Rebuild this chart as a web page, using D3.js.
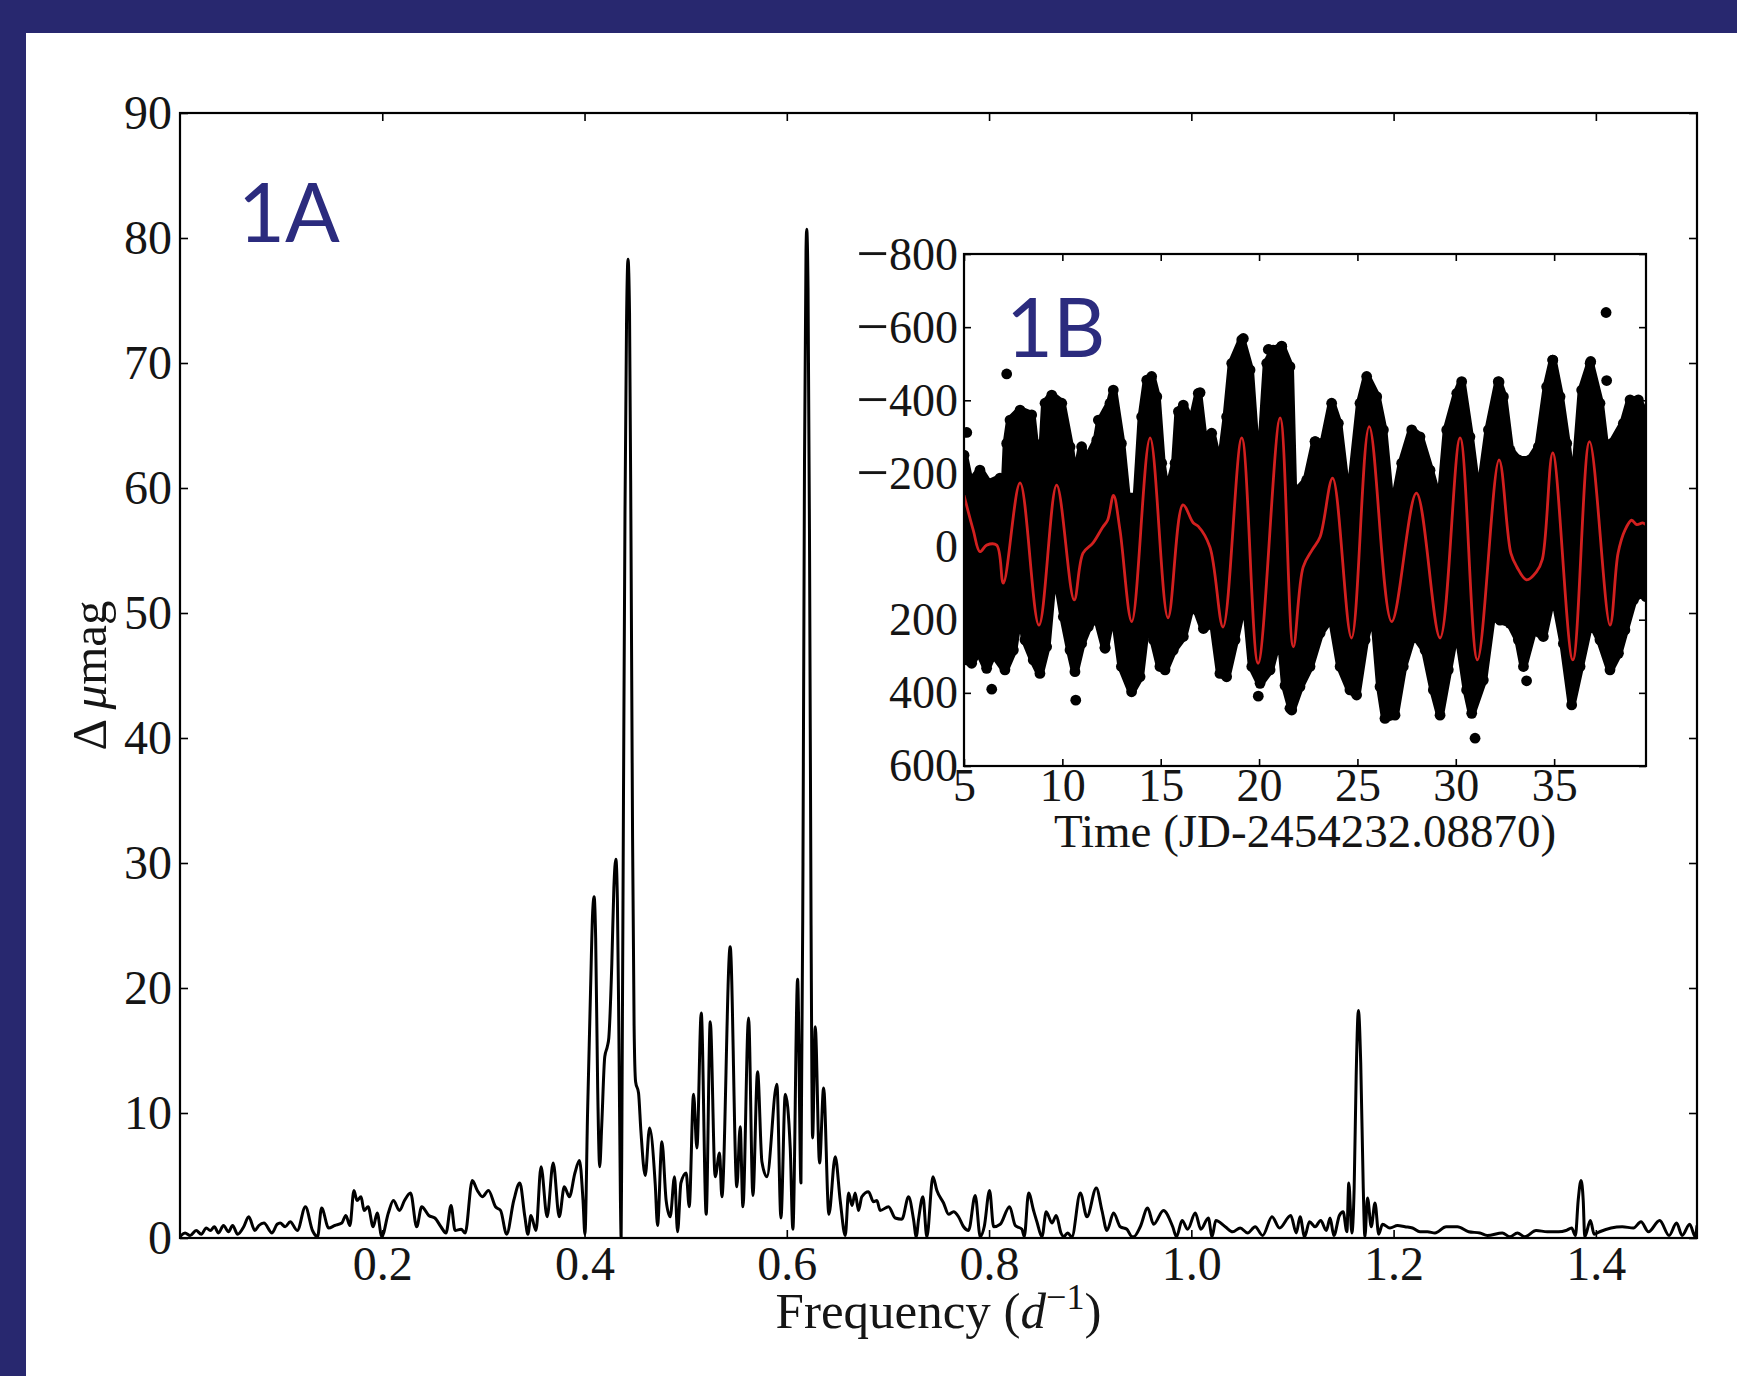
<!DOCTYPE html>
<html>
<head>
<meta charset="utf-8">
<script src="https://cdn.jsdelivr.net/npm/d3@7"></script>
<style>
  body { margin: 0; background: #fff; }
  svg { display: block; }
</style>
</head>
<body>
<svg id="chart" width="1737" height="1376"></svg>
<script>
// ---- amplitude spectrum (panel 1A) ----
const specFreq = [0.000, 0.005, 0.010, 0.016, 0.021, 0.026, 0.030, 0.034, 0.038, 0.043, 0.048, 0.052, 0.057, 0.063,
    0.068, 0.074, 0.078, 0.083, 0.091, 0.096, 0.099, 0.104, 0.109, 0.116, 0.124, 0.131, 0.136, 0.140, 0.147, 0.153,
    0.160, 0.164, 0.168, 0.172, 0.175, 0.179, 0.182, 0.186, 0.191, 0.195, 0.1995, 0.206, 0.211, 0.217, 0.222, 0.228,
    0.234, 0.239, 0.246, 0.252, 0.258, 0.263, 0.268, 0.272, 0.278, 0.282, 0.289, 0.294, 0.299, 0.305, 0.312, 0.317,
    0.323, 0.330, 0.336, 0.341, 0.344, 0.347, 0.352, 0.357, 0.363, 0.369, 0.375, 0.380, 0.385, 0.3905, 0.395, 0.3985,
    0.4004, 0.403, 0.406, 0.408, 0.4095, 0.411, 0.413, 0.415, 0.417, 0.420, 0.4225, 0.424, 0.427, 0.429, 0.431, 0.4325,
    0.434, 0.4355, 0.4362, 0.437, 0.4385, 0.440, 0.4415, 0.443, 0.4445, 0.446, 0.4475, 0.449, 0.4505, 0.4534, 0.4557,
    0.4600, 0.4643, 0.4699, 0.4722, 0.4765, 0.4807, 0.4847, 0.4890, 0.4920, 0.4953, 0.5005, 0.5035, 0.5078, 0.5111,
    0.5154, 0.5203, 0.5243, 0.5292, 0.5335, 0.5358, 0.5440, 0.5506, 0.5539, 0.5566, 0.5622, 0.5665, 0.5711, 0.5754,
    0.5803, 0.5902, 0.5942, 0.5985, 0.6034, 0.6060, 0.6107, 0.6140, 0.6160, 0.6175, 0.619, 0.6197, 0.621, 0.6225,
    0.624, 0.6255, 0.6281, 0.6324, 0.6364, 0.6416, 0.6479, 0.6528, 0.6578, 0.6611, 0.6645, 0.6676, 0.6709, 0.6742,
    0.6808, 0.6857, 0.6891, 0.6923, 0.7006, 0.7072, 0.7138, 0.7204, 0.7253, 0.7280, 0.7303, 0.7346, 0.7385, 0.7445,
    0.7484, 0.7550, 0.7600, 0.7649, 0.7698, 0.7748, 0.7797, 0.7863, 0.7913, 0.7952, 0.8005, 0.8045, 0.8110, 0.8203,
    0.8259, 0.8325, 0.8348, 0.8391, 0.8440, 0.8473, 0.8523, 0.8565, 0.8622, 0.8664, 0.8711, 0.8737, 0.8776, 0.8819,
    0.8902, 0.8968, 0.9060, 0.9116, 0.9166, 0.9231, 0.9297, 0.9363, 0.9413, 0.9429, 0.9495, 0.9568, 0.9627, 0.9724,
    0.9816, 0.9853, 0.9909, 0.9964, 1.0039, 1.0094, 1.0168, 1.0205, 1.0242, 1.0335, 1.0409, 1.0483, 1.0557, 1.0631,
    1.0705, 1.0798, 1.0872, 1.0983, 1.1038, 1.1075, 1.1120, 1.1168, 1.1224, 1.1279, 1.1335, 1.1372, 1.1409, 1.1464,
    1.1501, 1.1538, 1.1557, 1.1587, 1.161, 1.163, 1.1652, 1.1675, 1.170, 1.1716, 1.1742, 1.1779, 1.1816, 1.1853,
    1.1890, 1.1964, 1.2039, 1.2113, 1.2187, 1.2261, 1.2335, 1.2409, 1.2520, 1.2631, 1.2742, 1.2853, 1.2927, 1.3075,
    1.3150, 1.3224, 1.3298, 1.3409, 1.3520, 1.3631, 1.3705, 1.3761, 1.3798, 1.3825, 1.3853, 1.3875, 1.3890, 1.3946,
    1.3983, 1.4038, 1.4150, 1.4261, 1.4372, 1.4446, 1.4520, 1.4631, 1.4724, 1.4798, 1.4853, 1.4927, 1.4983, 1.5000];

const specAmp = [0.1, 0.4, 0.2, 0.6, 0.3, 0.8, 0.6, 0.9, 0.4, 1.0, 0.5, 1.0, 0.3, 0.9,
    1.7, 0.6, 1.0, 1.2, 0.4, 1.1, 1.2, 0.9, 1.3, 0.6, 2.5, 0.6, 0.1, 2.4, 0.8, 1.0,
    1.2, 1.8, 1.0, 3.8, 3.0, 3.3, 2.2, 2.5, 0.9, 2.0, 0.1, 2.0, 3.0, 2.2, 3.0, 3.6,
    0.9, 2.5, 1.8, 1.6, 0.9, 0.4, 2.6, 0.6, 0.7, 0.4, 4.6, 3.8, 3.3, 3.8, 2.5, 2.2,
    0.3, 3.0, 4.4, 1.7, 0.3, 1.8, 0.6, 5.7, 1.7, 6.0, 1.7, 4.1, 3.3, 5.2, 6.2, 3.0,
    0.3, 10, 20, 26, 27.3, 24, 12, 5.7, 9, 14.5, 15.3, 16, 22, 28, 30.3, 27,
    16, 3, 0, 10, 35, 58, 73, 78.3, 74, 55, 32, 17, 12.5, 11.6, 8.6,
    5.0, 8.8, 4.3, 1.0, 7.7, 3.0, 1.7, 4.9, 0.5, 4.4, 5.2, 2.5, 11.5, 7.2,
    18.0, 1.9, 17.3, 4.9, 6.8, 3.3, 23.3, 4.1, 8.9, 2.5, 17.6, 3.4, 13.3, 6.1,
    4.9, 12.3, 1.6, 11.5, 7.2, 0.7, 20.7, 4.4, 30, 62, 79, 80.7, 76, 55,
    25, 8.0, 16.9, 6.0, 12.0, 1.9, 6.5, 3.0, 0.2, 3.6, 2.6, 3.6, 2.2, 3.3,
    3.7, 2.9, 3.0, 2.2, 2.5, 1.6, 1.5, 3.3, 1.5, 0.1, 1.5, 3.3, 0.1, 4.9,
    3.8, 2.8, 1.9, 2.1, 1.7, 0.9, 0.6, 3.4, 0.1, 0.9, 3.8, 0.9, 1.1, 2.5,
    1.0, 0.7, 0.1, 3.6, 2.2, 1.3, 0.1, 2.1, 1.2, 1.8, 0.4, 0.1, 0.4, 0.1,
    3.6, 1.7, 4.0, 2.2, 0.6, 2.0, 0.9, 0.7, 0.1, 0.1, 0.9, 2.4, 1.1, 2.2,
    0.9, 0.1, 1.4, 0.7, 2.0, 0.7, 1.6, 0.1, 1.4, 0.9, 0.5, 0.8, 0.4, 0.9,
    0.2, 1.7, 0.8, 1.8, 0.4, 1.7, 0.1, 1.3, 0.9, 1.4, 0.6, 1.6, 0.2, 1.8,
    2.1, 0.5, 4.4, 0.4, 4, 13, 18.2, 14, 4, 0.1, 3.2, 0.9, 2.8, 0.3,
    1.1, 0.8, 1.0, 0.9, 0.8, 0.5, 0.5, 0.4, 0.9, 0.9, 0.5, 0.4, 0.2, 0.4,
    0.1, 0.4, 0.1, 0.6, 0.5, 0.5, 0.6, 0.8, 0.2, 3.0, 4.6, 3.0, 0.1, 1.4,
    0.3, 0.5, 0.8, 0.9, 0.8, 1.3, 0.5, 1.4, 0.2, 1.2, 0.2, 1.1, 0.1, 1.0];

const freqTicks = [0.2, 0.4, 0.6, 0.8, 1.0, 1.2, 1.4];
const ampTicks = [0, 10, 20, 30, 40, 50, 60, 70, 80, 90];

// ---- light curve (panel 1B) ----
// upper and lower edge of the dense black point cloud
const upperT = [5.0, 5.3, 5.81, 6.24, 6.83, 7.08, 7.17, 7.34, 7.85, 8.44, 8.6, 8.86, 9.12, 9.46, 9.97, 10.39, 10.64,
    10.98, 11.24, 11.75, 11.91, 12.42, 12.59, 13.0, 13.27, 13.78, 14.03, 14.29, 14.54, 14.8, 15.05, 15.3, 15.73, 15.9,
    16.15, 16.57, 16.91, 17.17, 17.59, 18.01, 18.35, 18.61, 19.12, 19.54, 19.88, 20.13, 20.39, 20.73, 21.15, 21.57,
    21.74, 21.99, 22.42, 22.85, 23.27, 23.69, 24.03, 24.37, 24.62, 25.13, 25.47, 25.98, 26.32, 26.74, 27.25, 27.76,
    28.18, 28.69, 29.2, 29.54, 30.05, 30.3, 30.72, 31.15, 31.66, 32.16, 32.42, 32.76, 33.18, 33.77, 34.2, 34.62,
    34.93, 35.3, 35.64, 35.98, 36.4, 36.83, 37.33, 37.67, 37.93, 38.52, 38.86, 39.28, 39.67];
const upperV = [-250, -173, -209, -173, -187, -173, -282, -346, -373, -360, -282, -146, -392, -414, -392, -273, -173,
    -273, -237, -291, -342, -392, -428, -282, -136, -136, -355, -455, -465, -410, -228, -136, -228, -369,
    -387, -337, -419, -300, -310, -209, -355, -501, -565, -483, -228, -282, -501, -537, -547, -492,
    -136, -155, -182, -287, -282, -392, -337, -182, -136, -392, -465, -410, -319, -82, -228, -319,
    -300, -209, -109, -319, -419, -451, -300, -118, -319, -451, -410, -264, -237, -237, -273, -437,
    -510, -410, -282, -136, -428, -501, -392, -237, -282, -337, -401, -401, -355];

const lowerT = [5.0, 5.39, 5.73, 6.15, 6.49, 7.08, 7.51, 7.85, 8.1, 8.52, 8.86, 9.2, 9.46, 9.8, 10.05, 10.39, 10.64,
    10.98, 11.32, 11.75, 12.17, 12.59, 13.0, 13.52, 13.95, 14.29, 14.63, 14.96, 15.22, 15.64, 16.15, 16.49, 16.83,
    17.17, 17.67, 18.01, 18.35, 18.78, 19.29, 19.63, 20.05, 20.56, 21.07, 21.32, 21.66, 22.08, 22.59, 23.1, 23.69,
    24.12, 24.62, 24.96, 25.39, 25.81, 26.15, 26.4, 26.91, 27.33, 27.84, 28.44, 28.86, 29.2, 29.62, 30.05, 30.55,
    30.81, 31.4, 31.83, 32.25, 32.76, 33.18, 33.44, 33.94, 34.45, 34.96, 35.47, 35.89, 36.32, 36.83, 37.33, 37.84,
    38.27, 38.6, 39.03, 39.37, 39.67];
const lowerV = [310, 319, 283, 333, 292, 337, 283, 164, 255, 310, 347, 274, 119, 110, 192, 283, 342,
    265, 219, 192, 278, 164, 328, 397, 356, 201, 255, 328, 337, 283, 246, 173, 173,
    224, 210, 347, 356, 255, 128, 328, 374, 337, 230, 380, 447, 383, 328, 237, 192,
    328, 392, 406, 255, 164, 383, 470, 461, 328, 237, 283, 392, 461, 337, 210, 392,
    456, 365, 192, 201, 210, 255, 328, 228, 246, 119, 265, 433, 328, 201, 255, 337,
    292, 228, 146, 128, 137];

// isolated points outside the cloud
const outlierT = [5.14, 7.17, 11.83, 17.0, 19.2, 20.47, 21.15, 22.85, 32.2, 34.93, 36.86, 37.64, 37.67,
    6.41, 10.68, 12.17, 19.96, 30.98, 33.6, 21.57];
const outlierV = [-312, -472, -346, -421, -569, -539, -548, -287, -450, -510, -506, -640, -454,
    390, 420, 275, 409, 524, 367, 442];

// red fitted curve
const fitT = [5.0, 5.47, 5.81, 6.15, 6.66, 7.0, 7.85, 8.81, 9.71, 10.6, 11.05, 11.56, 12.05, 12.3, 12.6, 12.93,
    13.53, 14.46, 15.37, 16.13, 16.65, 16.9, 17.5, 18.17, 19.12, 19.95, 21.07, 21.74, 22.24, 22.7, 23.1, 23.74,
    24.7, 25.6, 26.74, 28.0, 29.2, 30.22, 31.1, 32.2, 32.8, 33.1, 33.6, 34.1, 34.4, 34.93, 35.95, 36.8, 37.84,
    38.25, 38.6, 38.94, 39.2, 39.5, 39.67];
const fitV = [-140, -45, 14, -4, -4, 100, -174, 215, -168, 146, 18, -10, -53, -72, -140, -45,
    205, -297, 195, -114, -65, -56, 1, 220, -297, 319, -352, 274, 56, 9, -26, -187,
    250, -328, 205, -146, 250, -297, 310, -237, 18, 55, 91, 69, 35, -256, 310, -287, 215,
    18, -45, -72, -60, -65, -60];

const timeTicks = [5, 10, 15, 20, 25, 30, 35];
const magTicks = [-800, -600, -400, -200, 0, 200, 400, 600];

// ---- layout ----
const W = 1737, H = 1376;
const NAVY = "#28286f";
const LABEL_BLUE = "#2b2b7e";
const SERIF = "'Liberation Serif', 'DejaVu Serif', serif";
const MAIN = {left: 180, right: 1697, top: 113, bottom: 1238};
const INSET = {left: 964, right: 1646, top: 254, bottom: 766};

const svg = d3.select("#chart");

// slide frame
svg.append("rect").attr("width", W).attr("height", H).attr("fill", NAVY);
svg.append("rect").attr("x", 26).attr("y", 33).attr("width", W - 26).attr("height", H - 33).attr("fill", "#fff");

function styleAxis(g, size) {
    g.select(".domain").remove();
    g.selectAll(".tick line").attr("stroke", "#000").attr("stroke-width", 1.6);
    g.selectAll(".tick text")
        .style("font-family", SERIF)
        .style("font-size", size + "px")
        .attr("fill", "#151515");
}

// ---------- main panel ----------
const xScale = d3.scaleLinear().domain([0, 1.5]).range([MAIN.left, MAIN.right]);
const yScale = d3.scaleLinear().domain([0, 90]).range([MAIN.bottom, MAIN.top]);

svg.append("clipPath").attr("id", "main-clip")
    .append("rect")
    .attr("x", MAIN.left).attr("y", MAIN.top)
    .attr("width", MAIN.right - MAIN.left).attr("height", MAIN.bottom - MAIN.top);

svg.append("path")
    .datum(d3.range(specFreq.length))
    .attr("clip-path", "url(#main-clip)")
    .attr("fill", "none")
    .attr("stroke", "#000")
    .attr("stroke-width", 3)
    .attr("stroke-linejoin", "round")
    .attr("d", d3.line()
        .curve(d3.curveMonotoneX)
        .x(i => xScale(specFreq[i]))
        .y(i => yScale(specAmp[i])));

svg.append("g")
    .attr("transform", `translate(0, ${MAIN.bottom})`)
    .call(d3.axisBottom(xScale).tickValues(freqTicks).tickFormat(d3.format(".1f"))
        .tickSizeInner(-8).tickSizeOuter(0).tickPadding(8))
    .call(styleAxis, 48);

svg.append("g")
    .attr("transform", `translate(0, ${MAIN.top})`)
    .call(d3.axisTop(xScale).tickValues(freqTicks).tickFormat("")
        .tickSizeInner(-8).tickSizeOuter(0))
    .call(styleAxis, 48);

svg.append("g")
    .attr("transform", `translate(${MAIN.left}, 0)`)
    .call(d3.axisLeft(yScale).tickValues(ampTicks).tickFormat(d3.format("d"))
        .tickSizeInner(-8).tickSizeOuter(0).tickPadding(8))
    .call(styleAxis, 48);

svg.append("g")
    .attr("transform", `translate(${MAIN.right}, 0)`)
    .call(d3.axisRight(yScale).tickValues(ampTicks).tickFormat("")
        .tickSizeInner(-8).tickSizeOuter(0))
    .call(styleAxis, 48);

svg.append("rect")
    .attr("x", MAIN.left).attr("y", MAIN.top)
    .attr("width", MAIN.right - MAIN.left).attr("height", MAIN.bottom - MAIN.top)
    .attr("fill", "none").attr("stroke", "#000").attr("stroke-width", 2.2);

// axis labels
const yLab = svg.append("text")
    .attr("transform", `translate(106, ${(MAIN.top + MAIN.bottom) / 2}) rotate(-90)`)
    .attr("text-anchor", "middle")
    .style("font-family", SERIF).style("font-size", "49px").attr("fill", "#151515");
yLab.append("tspan").text("Δ ");
yLab.append("tspan").attr("font-style", "italic").text("μ");
yLab.append("tspan").text("mag");

const xLab = svg.append("text")
    .attr("x", (MAIN.left + MAIN.right) / 2).attr("y", 1328)
    .attr("text-anchor", "middle")
    .style("font-family", SERIF).style("font-size", "51px").attr("fill", "#151515");
xLab.append("tspan").text("Frequency (");
xLab.append("tspan").attr("font-style", "italic").text("d");
xLab.append("tspan").attr("dy", -19).style("font-size", "36px").text("\u22121");
xLab.append("tspan").attr("dy", 19).text(")");

svg.append("text")
    .attr("x", 238).attr("y", 242)
    .style("font-family", "Lato, 'Open Sans', sans-serif").style("font-size", "81px")
    .attr("fill", LABEL_BLUE)
    .text("1A");

// ---------- inset panel ----------
const tScale = d3.scaleLinear().domain([5, 39.67]).range([INSET.left, INSET.right]);
const mScale = d3.scaleLinear().domain([-800, 600]).range([INSET.top, INSET.bottom]);

const inset = svg.append("g");
inset.append("rect")
    .attr("x", INSET.left).attr("y", INSET.top)
    .attr("width", INSET.right - INSET.left).attr("height", INSET.bottom - INSET.top)
    .attr("fill", "#fff");

svg.append("clipPath").attr("id", "inset-clip")
    .append("rect")
    .attr("x", INSET.left).attr("y", INSET.top)
    .attr("width", INSET.right - INSET.left).attr("height", INSET.bottom - INSET.top);

const cloud = inset.append("g").attr("clip-path", "url(#inset-clip)");

// cloud outline: upper edge left->right, lower edge right->left
const cloudPts = upperT.map((t, i) => [tScale(t), mScale(upperV[i])])
    .concat(lowerT.map((t, i) => [tScale(t), mScale(lowerV[i])]).reverse());

cloud.append("path")
    .datum(cloudPts)
    .attr("d", d => d3.line()(d) + "Z")
    .attr("fill", "#000")
    .attr("stroke", "#000")
    .attr("stroke-width", 8)
    .attr("stroke-linejoin", "round");

const dotT = upperT.concat(lowerT, outlierT);
const dotV = upperV.concat(lowerV, outlierV);
cloud.selectAll("circle")
    .data(d3.range(dotT.length))
    .enter()
    .append("circle")
    .attr("cx", i => tScale(dotT[i]))
    .attr("cy", i => mScale(dotV[i]))
    .attr("r", 5.4)
    .attr("fill", "#000");

cloud.append("path")
    .datum(d3.range(fitT.length))
    .attr("fill", "none")
    .attr("stroke", "#d2201f")
    .attr("stroke-width", 2.8)
    .attr("d", d3.line()
        .curve(d3.curveCatmullRom)
        .x(i => tScale(fitT[i]))
        .y(i => mScale(fitV[i])));

inset.append("g")
    .attr("transform", `translate(0, ${INSET.bottom})`)
    .call(d3.axisBottom(tScale).tickValues(timeTicks).tickFormat(d3.format("d"))
        .tickSizeInner(-7).tickSizeOuter(0).tickPadding(2))
    .call(styleAxis, 46);

inset.append("g")
    .attr("transform", `translate(0, ${INSET.top})`)
    .call(d3.axisTop(tScale).tickValues(timeTicks).tickFormat("")
        .tickSizeInner(-7).tickSizeOuter(0))
    .call(styleAxis, 46);

const magAxis = inset.append("g")
    .attr("transform", `translate(${INSET.left}, 0)`)
    .call(d3.axisLeft(mScale).tickValues(magTicks).tickFormat(d => String(Math.abs(d)))
        .tickSizeInner(-7).tickSizeOuter(0).tickPadding(6))
    .call(styleAxis, 46);

// matplotlib draws a long minus sign; put it in front as a wider glyph
magAxis.selectAll(".tick text")
    .filter(d => d < 0)
    .each(function(d) {
        const t = d3.select(this);
        t.text(null).attr("dy", null);
        t.append("tspan").style("font-size", "58px").attr("dy", 18).text("\u2212");
        t.append("tspan").attr("dy", -3).text(Math.abs(d));
    });

inset.append("g")
    .attr("transform", `translate(${INSET.right}, 0)`)
    .call(d3.axisRight(mScale).tickValues(magTicks).tickFormat("")
        .tickSizeInner(-7).tickSizeOuter(0))
    .call(styleAxis, 46);

inset.append("rect")
    .attr("x", INSET.left).attr("y", INSET.top)
    .attr("width", INSET.right - INSET.left).attr("height", INSET.bottom - INSET.top)
    .attr("fill", "none").attr("stroke", "#000").attr("stroke-width", 2.2);

inset.append("text")
    .attr("x", (INSET.left + INSET.right) / 2).attr("y", 847)
    .attr("text-anchor", "middle")
    .style("font-family", SERIF).style("font-size", "47px").attr("fill", "#151515")
    .text("Time (JD-2454232.08870)");

inset.append("text")
    .attr("x", 1006).attr("y", 357)
    .style("font-family", "Lato, 'Open Sans', sans-serif").style("font-size", "81px")
    .attr("fill", LABEL_BLUE)
    .text("1B");
</script>
</body>
</html>
